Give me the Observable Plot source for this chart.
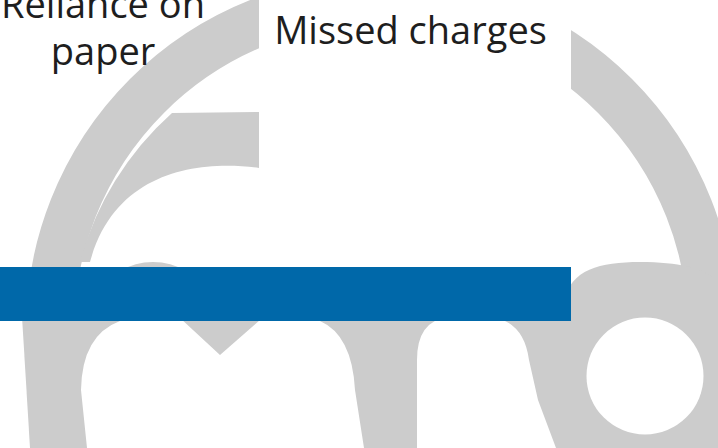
<!DOCTYPE html>
<html>
<head>
<meta charset="utf-8">
<script src="https://cdn.jsdelivr.net/npm/d3@7"></script>
<script src="https://cdn.jsdelivr.net/npm/@observablehq/plot@0.6"></script>
<style>
  html, body { margin: 0; padding: 0; background: #fff; overflow: hidden; }
  #chart svg { display: block; }
</style>
</head>
<body>
<div id="chart"></div>
<script>
// Category labels shown above the bar
const labels = ["Reliance on paper", "Missed charges"];
// Bar series (one visible bar)
const barCategories = ["Missed charges"];
const barValues = [100];

const bars = barCategories.map((c, i) => ({category: c, value: barValues[i]}));

const GRAY = "#cccccc";
// Decorative background watermark (logo), not data
function watermark() {
  const g = d3.create("svg:g");
  g.append("circle").attr("cx", 381).attr("cy", 330).attr("r", 331)
    .attr("fill", "none").attr("stroke", GRAY).attr("stroke-width", 48);
  g.append("path").attr("fill", GRAY)
    .attr("d", "M172,113 L259,112 L259,168 C200,160 115,170 90,262 L80,262 A307,307 0 0 1 172,113 Z");
  g.append("path").attr("fill", GRAY).attr("d", "M21,300 L718,300 L718,448 L30,448 Z");
  g.append("ellipse").attr("cx", 153).attr("cy", 292).attr("rx", 45).attr("ry", 30).attr("fill", GRAY);
  g.append("path").attr("fill", GRAY)
    .attr("d", "M565,321 L565,300 C570,270 600,262 640,262 C680,262 700,268 718,280 L718,321 Z");
  g.append("path").attr("fill", "#fff")
    .attr("d", "M87,448 L81,390 Q82,335 120,321 L125,305 L166,305 L220,355 L277,305 L320,305 L320,321 Q352,335 355,390 L364,448 Z");
  g.append("path").attr("fill", "#fff")
    .attr("d", "M417,448 L417,360 Q417,321 448,317 L492,317 Q524,322 529,360 L538,400 L556,448 Z");
  g.append("circle").attr("cx", 645).attr("cy", 376).attr("r", 58.5).attr("fill", "#fff");
  g.append("rect").attr("x", 259).attr("y", 0).attr("width", 312).attr("height", 267).attr("fill", "#fff");
  return g.node();
}

const textStyle = {
  frameAnchor: "top-left",
  textAnchor: "middle",
  lineAnchor: "bottom",
  fontSize: 38,
  fontFamily: "'Open Sans', sans-serif",
  fill: "#1e1e1e",
  lineHeight: 1.237
};

const chart = Plot.plot({
  width: 718,
  height: 448,
  marginLeft: 0,
  marginRight: 147,
  marginTop: 267,
  marginBottom: 127,
  x: {domain: [0, d3.max(barValues)], axis: null},
  y: {domain: barCategories, axis: null, padding: 0},
  style: {background: "#fff", fontFamily: "'Open Sans', sans-serif", overflow: "hidden"},
  marks: [
    watermark,
    Plot.barX(bars, {x: "value", y: "category", fill: "#0068a9"}),
    Plot.text([labels[0]], {...textStyle, text: d => d, lineWidth: 7, dx: 102.5, dy: -203}),
    Plot.text([labels[1]], {...textStyle, text: d => d, dx: 410, dy: -224})
  ]
});
document.getElementById("chart").appendChild(chart);
</script>
</body>
</html>
